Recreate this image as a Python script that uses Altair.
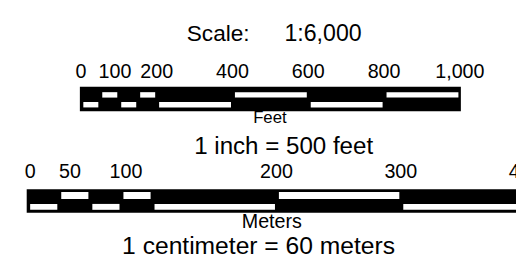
import altair as alt
import pandas as pd

# ---- data ----
feet_starts = [0, 50, 100, 150, 200, 400, 600, 800]
feet_ends = [50, 100, 150, 200, 400, 600, 800, 1000]
feet_white_row = ["bottom", "top", "bottom", "top", "bottom", "top", "bottom", "top"]
feet_tick_labels = ["0", "100", "200", "400", "600", "800", "1,000"]
feet_tick_values = [0, 90, 200, 400, 600, 800, 1000]

meter_starts = [0, 25, 50, 75, 100, 200, 300]
meter_ends = [25, 50, 75, 100, 200, 300, 400]
meter_white_row = ["bottom", "top", "bottom", "top", "bottom", "top", "bottom"]
meter_tick_labels = ["0", "50", "100", "200", "300", "400"]
meter_tick_values = [2, 34, 79, 200, 300, 400]

title_left = "Scale:"
title_right = "1:6,000"
feet_unit = "Feet"
feet_equiv = "1 inch = 500 feet"
meter_unit = "Meters"
meter_equiv = "1 centimeter = 60 meters"

FONT = "Liberation Sans"

feet_scale = alt.Scale(domain=[0, 1000], range=[74, 459], nice=False, zero=False)
meter_scale = alt.Scale(domain=[0, 300], range=[20, 399], nice=False, zero=False)

feet_df = pd.DataFrame({"start": feet_starts, "end": feet_ends, "row": feet_white_row})
meter_df = pd.DataFrame({"start": meter_starts, "end": meter_ends, "row": meter_white_row})
feet_full = pd.DataFrame({"start": [feet_starts[0]], "end": [feet_ends[-1]]})
meter_full = pd.DataFrame({"start": [meter_starts[0]], "end": [meter_ends[-1]]})
feet_ticks = pd.DataFrame({"v": feet_tick_values, "label": feet_tick_labels})
meter_ticks = pd.DataFrame({"v": meter_tick_values, "label": meter_tick_labels})


def bar_layers(full, segs, scale, y_bar, y_top, y_bot):
    black = alt.Chart(full).mark_rect(color="black", xOffset=-1, x2Offset=1).encode(
        x=alt.X("start:Q", scale=scale, axis=None),
        x2="end:Q",
        y=alt.value(y_bar[0]),
        y2=alt.value(y_bar[1]),
    )
    top = alt.Chart(segs[segs["row"] == "top"]).mark_rect(
        color="white", xOffset=2.5, x2Offset=-1.5
    ).encode(
        x=alt.X("start:Q", scale=scale, axis=None),
        x2="end:Q",
        y=alt.value(y_top[0]),
        y2=alt.value(y_top[1]),
    )
    bot = alt.Chart(segs[segs["row"] == "bottom"]).mark_rect(
        color="white", xOffset=2.5, x2Offset=-1.5
    ).encode(
        x=alt.X("start:Q", scale=scale, axis=None),
        x2="end:Q",
        y=alt.value(y_bot[0]),
        y2=alt.value(y_bot[1]),
    )
    return [black, top, bot]


def tick_text(df, scale, y, size):
    return alt.Chart(df).mark_text(
        font=FONT, fontSize=size, align="center", baseline="alphabetic", color="black"
    ).encode(
        x=alt.X("v:Q", scale=scale, axis=None),
        y=alt.value(y),
        text="label:N",
    )


def label(text, x, y, size):
    return alt.Chart(pd.DataFrame({"t": [text]})).mark_text(
        font=FONT, fontSize=size, align="center", baseline="alphabetic", color="black"
    ).encode(x=alt.value(x), y=alt.value(y), text="t:N")


layers = []
layers += bar_layers(feet_full, feet_df, feet_scale, (78, 103), (83.5, 89), (93.5, 99))
layers += bar_layers(meter_full, meter_df, meter_scale, (182, 206), (185, 192), (197, 203))
layers.append(tick_text(feet_ticks, feet_scale, 69, 20))
layers.append(tick_text(meter_ticks, meter_scale, 171, 20))
layers.append(label(title_left, 213.5, 32, 23))
layers.append(label(title_right, 320, 32, 23.5))
layers.append(label(feet_unit, 266, 115, 17))
layers.append(label(feet_equiv, 280, 146, 24.5))
layers.append(label(meter_unit, 268, 221.5, 20))
layers.append(label(meter_equiv, 254.5, 247.5, 25))

chart = alt.layer(*layers).resolve_scale(x="independent").properties(
    width=516,
    height=254,
    autosize=alt.AutoSizeParams(type="none"),
    padding=0,
).configure_view(stroke=None)

chart.save("out.html", embed_options={"renderer": "svg", "actions": False})
